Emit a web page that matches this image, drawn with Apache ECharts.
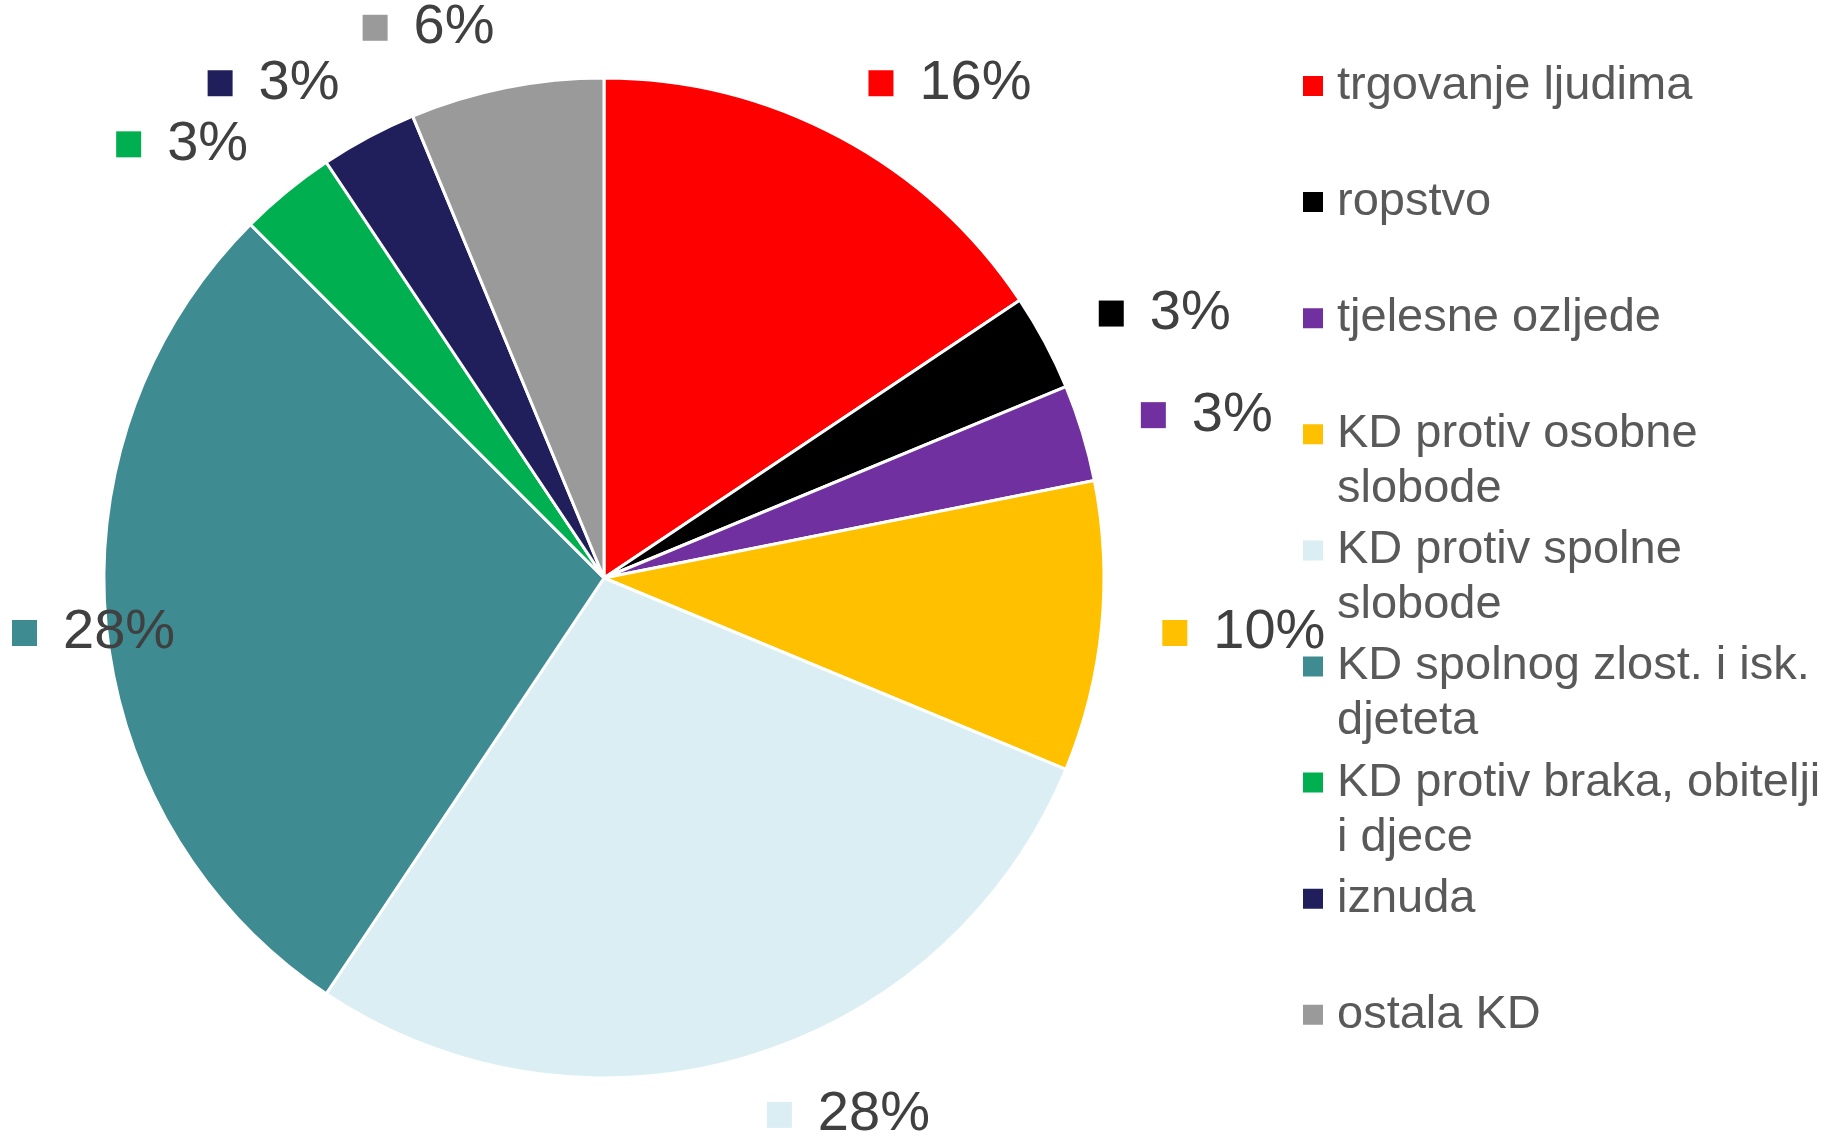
<!DOCTYPE html>
<html><head><meta charset="utf-8">
<script src="https://cdn.jsdelivr.net/npm/echarts@6/dist/echarts.min.js"></script>
<style>html,body{margin:0;padding:0;background:#fff}#chart{width:1847px;height:1140px}</style>
</head><body><div id="chart"></div>
<script>
const categories = ['trgovanje ljudima', 'ropstvo', 'tjelesne ozljede', 'KD protiv osobne slobode', 'KD protiv spolne slobode', 'KD spolnog zlost. i isk. djeteta', 'KD protiv braka, obitelji i djece', 'iznuda', 'ostala KD'];
const values = [5, 1, 1, 3, 9, 9, 1, 1, 2];
const colors = ['#FF0000', '#000000', '#7030A0', '#FFC000', '#DAEEF3', '#3E8B91', '#00B050', '#201F5B', '#9A9A9A'];

const FONT = 'Arial, "Liberation Sans", sans-serif';
const LEGEND_FONT_SIZE = 47;
const LEGEND_WRAP = 490;

const measureCtx = document.createElement('canvas').getContext('2d');
measureCtx.font = LEGEND_FONT_SIZE + 'px ' + FONT;
function wrapName(name) {
  const words = name.split(' ');
  const lines = [];
  let cur = '';
  words.forEach(w => {
    const t = cur ? cur + ' ' + w : w;
    if (cur && measureCtx.measureText(t).width > LEGEND_WRAP) { lines.push(cur); cur = w; }
    else cur = t;
  });
  lines.push(cur);
  while (lines.length < 2) lines.push(' ');
  return lines.join('\n');
}

const rich = { t: { fontSize: 56, color: '#404040', fontFamily: FONT, padding: [0, 0, 0, 26], lineHeight: 64 } };
colors.forEach((c, i) => { rich['m' + i] = { width: 25, height: 26, backgroundColor: c }; });

const chart = echarts.init(document.getElementById('chart'), null, { renderer: 'canvas' });
chart.setOption({
  animation: false,
  backgroundColor: '#ffffff',
  color: colors,
  legend: {
    orient: 'vertical',
    left: 1303,
    top: 58.5,
    padding: 0,
    itemWidth: 29,
    itemHeight: 110,
    itemGap: 6.1,
    selectedMode: false,
    icon: 'path://M0,0L0,0M0,17.5L20,17.5L20,37.5L0,37.5ZM29,110L29,110',
    itemStyle: { borderWidth: 0 },
    formatter: wrapName,
    textStyle: { fontSize: LEGEND_FONT_SIZE, color: '#595959', fontFamily: FONT, lineHeight: 55 },
    data: categories
  },
  series: [{
    type: 'pie',
    center: [604, 578],
    radius: 500,
    startAngle: 90,
    clockwise: true,
    percentPrecision: 0,
    avoidLabelOverlap: false,
    itemStyle: { borderColor: '#ffffff', borderWidth: 3 },
    emphasis: { disabled: true },
    label: {
      show: true,
      position: 'outside',
      distanceToLabelLine: 0,
      formatter: p => `{m${p.dataIndex}|}{t|${p.percent}%}`,
      rich: rich
    },
    labelLine: { show: false, length: 61, length2: 0 },
    labelLayout: function (p) {
      const r = p.labelRect;
      if (r && r.x < 12) return { dx: 12 - r.x };
      return {};
    },
    data: categories.map((n, i) => ({ name: n, value: values[i] }))
  }]
});
</script></body></html>
